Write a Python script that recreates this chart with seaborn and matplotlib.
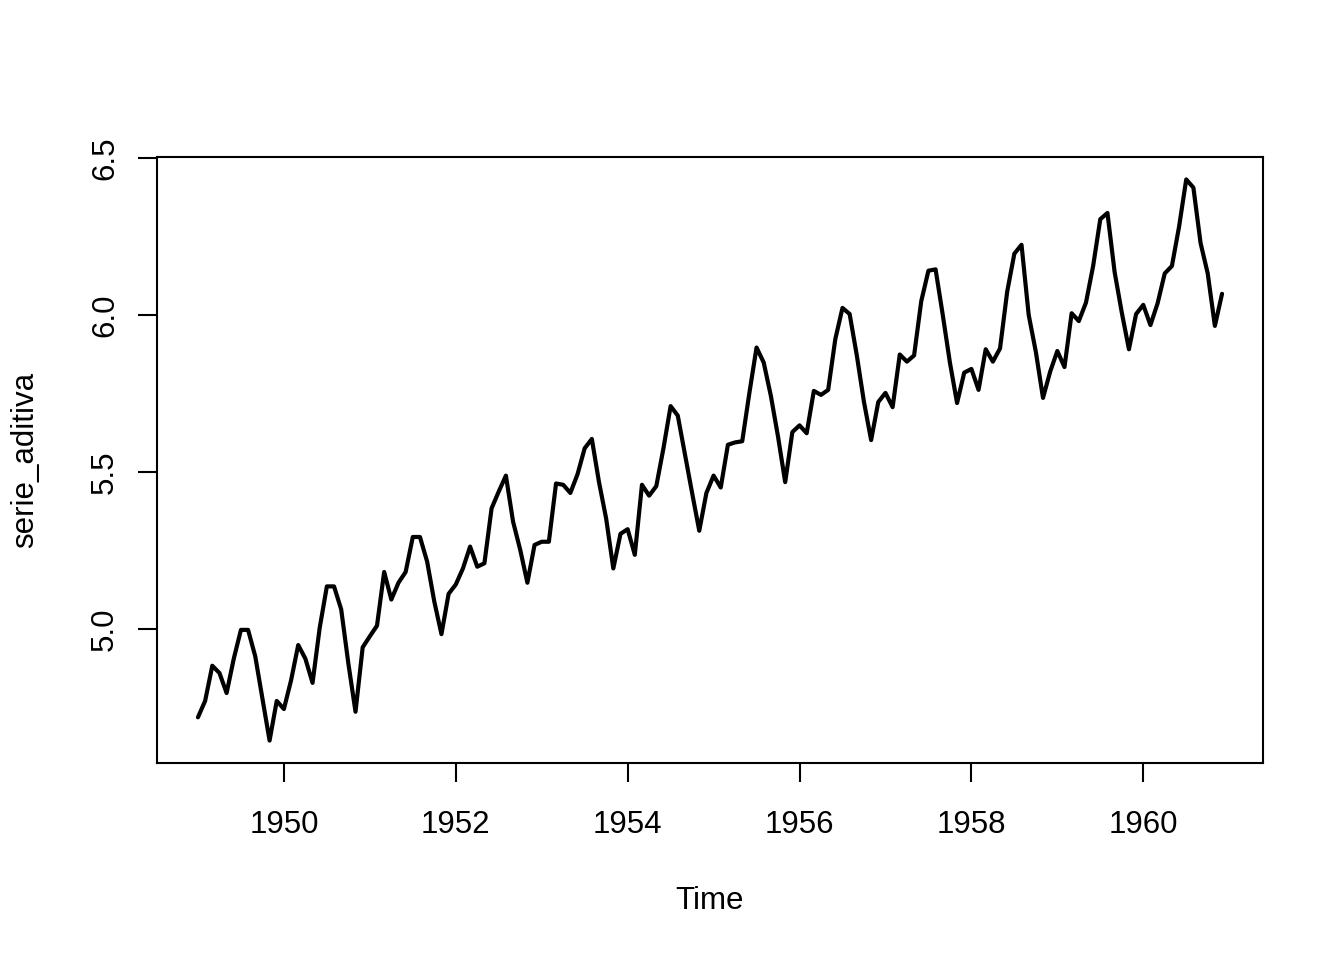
import numpy as np
import pandas as pd
import matplotlib
matplotlib.use("Agg")
import matplotlib.pyplot as plt
import seaborn as sns

start_year = 1949
frequency = 12
serie_aditiva = [
    4.7185, 4.7707, 4.8828, 4.8598, 4.7958, 4.9053, 4.9972, 4.9972, 4.9127, 4.7791, 4.6444, 4.7707,
    4.7449, 4.8363, 4.9488, 4.9053, 4.8283, 5.0039, 5.1358, 5.1358, 5.0626, 4.8903, 4.7362, 4.9416,
    4.9767, 5.0106, 5.1818, 5.0938, 5.1475, 5.1818, 5.2933, 5.2933, 5.2149, 5.0876, 4.9836, 5.1120,
    5.1417, 5.1930, 5.2627, 5.1985, 5.2095, 5.3845, 5.4381, 5.4889, 5.3423, 5.2523, 5.1475, 5.2679,
    5.2781, 5.2781, 5.4638, 5.4596, 5.4337, 5.4931, 5.5759, 5.6058, 5.4681, 5.3519, 5.1930, 5.3033,
    5.3181, 5.2364, 5.4596, 5.4250, 5.4553, 5.5759, 5.7104, 5.6802, 5.5568, 5.4337, 5.3132, 5.4337,
    5.4889, 5.4510, 5.5872, 5.5947, 5.5984, 5.7526, 5.8972, 5.8493, 5.7430, 5.6131, 5.4681, 5.6276,
    5.6490, 5.6240, 5.7589, 5.7462, 5.7621, 5.9243, 6.0234, 6.0039, 5.8721, 5.7236, 5.6021, 5.7236,
    5.7526, 5.7071, 5.8749, 5.8522, 5.8721, 6.0450, 6.1420, 6.1463, 6.0014, 5.8493, 5.7203, 5.8171,
    5.8289, 5.7621, 5.8916, 5.8522, 5.8944, 6.0753, 6.1964, 6.2246, 6.0014, 5.8833, 5.7366, 5.8201,
    5.8861, 5.8348, 6.0064, 5.9814, 6.0403, 6.1570, 6.3063, 6.3261, 6.1377, 6.0088, 5.8916, 6.0039,
    6.0331, 5.9687, 6.0379, 6.1334, 6.1570, 6.2823, 6.4329, 6.4069, 6.2305, 6.1334, 5.9661, 6.0684,
]
x_ticks = [1950, 1952, 1954, 1956, 1958, 1960]
y_ticks = [5.0, 5.5, 6.0, 6.5]
x_label = "Time"
y_label = "serie_aditiva"

time = start_year + np.arange(len(serie_aditiva)) / frequency
df = pd.DataFrame({"Time": time, "serie_aditiva": serie_aditiva})

sns.set_theme(style="white")
plt.rcParams["font.family"] = ["Liberation Sans", "DejaVu Sans"]

fig = plt.figure(figsize=(13.44, 9.6), dpi=100)
ax = fig.add_axes([157 / 1344, 1 - 763 / 960, (1263 - 157) / 1344, (763 - 157) / 960])

sns.lineplot(data=df, x="Time", y="serie_aditiva", ax=ax, color="black", linewidth=3.0)

# R-style 4% padding
xr = time.max() - time.min()
ax.set_xlim(time.min() - 0.04 * xr, time.max() + 0.04 * xr)
yv = np.array(serie_aditiva)
yr = yv.max() - yv.min()
ax.set_ylim(yv.min() - 0.04 * yr, yv.max() + 0.04 * yr)

ax.set_xticks(x_ticks)
ax.set_xticklabels([str(t) for t in x_ticks])
ax.set_yticks(y_ticks)
ax.set_yticklabels([f"{t:.1f}" for t in y_ticks], rotation=90, va="center")

for s in ax.spines.values():
    s.set_visible(True)
    s.set_color("black")
    s.set_linewidth(1.5)

ax.tick_params(axis="both", direction="out", length=13.7, width=1.5, color="black",
               labelsize=22.5, labelcolor="black", bottom=True, left=True)
ax.tick_params(axis="x", pad=20)
ax.tick_params(axis="y", pad=13)

ax.set_xlabel(x_label, fontsize=22.5, color="black", va="center")
ax.set_ylabel(y_label, fontsize=22.5, color="black", va="center")
ax.xaxis.set_label_coords(0.5, -(901 - 763) / 606)
ax.yaxis.set_label_coords(-(157 - 25) / 1106, 0.5)
ax.grid(False)

fig.savefig("out.png", dpi=100, facecolor="white")
